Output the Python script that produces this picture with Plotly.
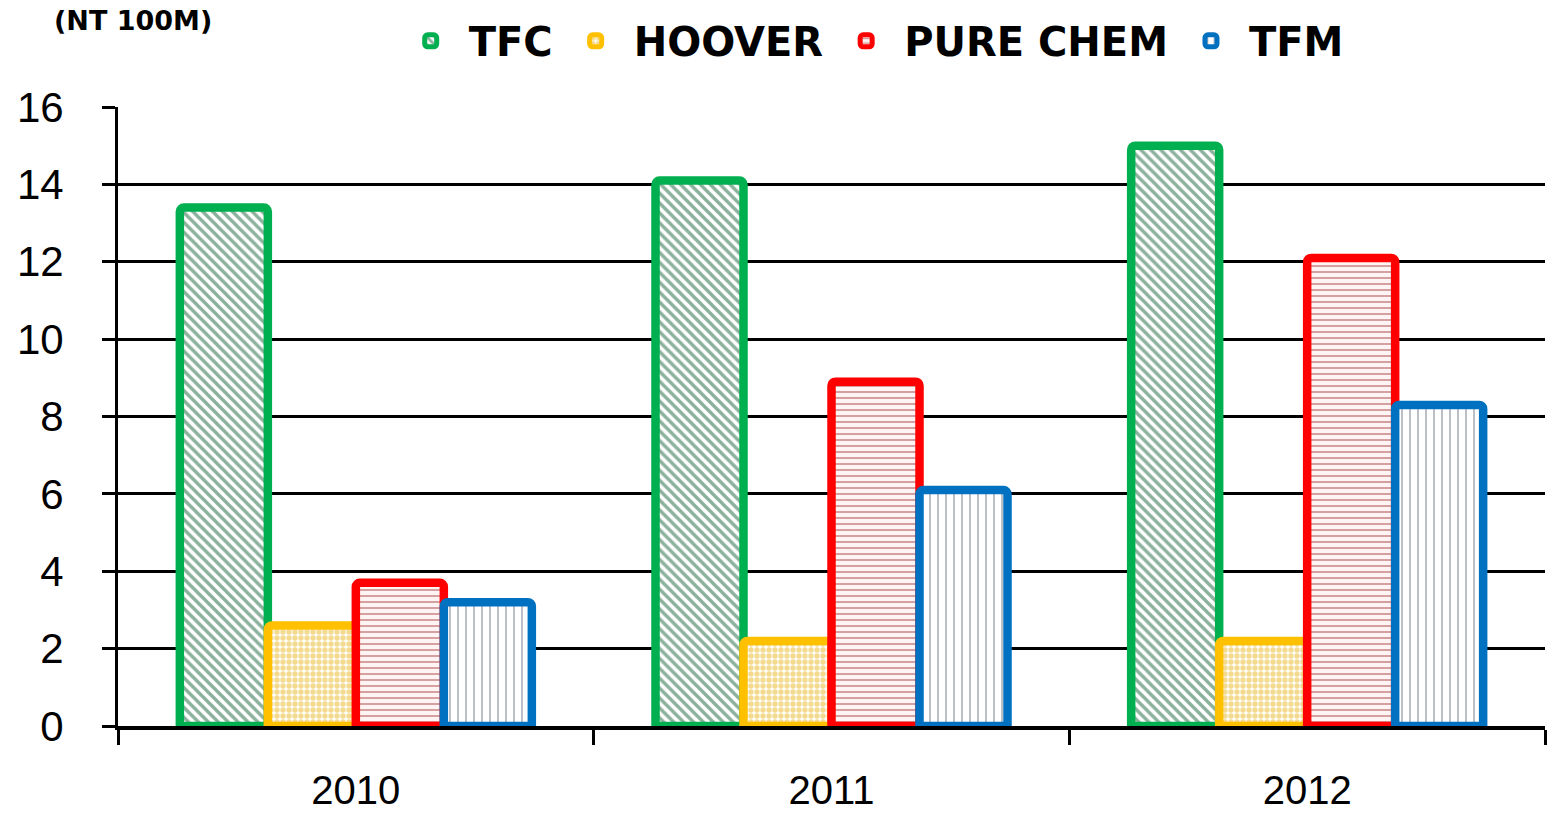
import plotly.graph_objects as go

# ---- data ----
years = ["2010", "2011", "2012"]
series_names = ["TFC", "HOOVER", "PURE CHEM", "TFM"]
tfc = [13.4, 14.1, 15.0]
hoover = [2.6, 2.2, 2.2]
pure_chem = [3.7, 8.9, 12.1]
tfm = [3.2, 6.1, 8.3]
y_ticks = [0, 2, 4, 6, 8, 10, 12, 14, 16]
unit_label = "(NT 100M)"

values = [tfc, hoover, pure_chem, tfm]

# ---- styles ----
border_colors = ["#00B050", "#FFC000", "#FF0000", "#0070C0"]
patterns = [
    dict(shape="\\", fgcolor="#166338", bgcolor="#FFFFFF", size=7, solidity=0.48),
    dict(shape=".", fgcolor="#E8B520", bgcolor="#FFFFFF", size=6, solidity=0.62),
    dict(shape="-", fgcolor="#9E2A2A", bgcolor="#FFF4F4", size=6, solidity=0.28),
    dict(shape="|", fgcolor="#2F3B4C", bgcolor="#FFFFFF", size=8, solidity=0.16),
]

fig = go.Figure()
for name, vals, bc, pat in zip(series_names, values, border_colors, patterns):
    fig.add_trace(go.Bar(
        name=name, x=years, y=vals,
        marker=dict(color="#FFFFFF", pattern=pat,
                    line=dict(color=bc, width=8.5), cornerradius=4),
    ))

fig.update_layout(
    width=1549, height=816,
    margin=dict(l=118, r=4, t=107, b=85),
    paper_bgcolor="white", plot_bgcolor="white",
    barmode="group", bargap=0.26, bargroupgap=0.0,
    showlegend=True,
    legend=dict(orientation="h", x=0.1925, xanchor="left", y=1.107, yanchor="middle",
                font=dict(family="DejaVu Sans", size=40, color="black", weight="bold"),
                itemwidth=66, traceorder="normal", bgcolor="rgba(0,0,0,0)"),
    annotations=[dict(text=unit_label, xref="paper", yref="paper", x=-0.046, y=1.139,
                      xanchor="left", yanchor="middle", showarrow=False,
                      font=dict(family="DejaVu Sans", size=27, color="black", weight="bold"))],
)
fig.update_yaxes(range=[0, 16], tickvals=y_ticks, showgrid=True, gridcolor="black", gridwidth=3,
                 showline=True, linecolor="black", linewidth=3, zeroline=False,
                 ticks="outside", ticklen=13, tickwidth=3, tickcolor="black",
                 tickfont=dict(family="Liberation Sans, Arial", size=42, color="black"),
                 ticklabelstandoff=30)
fig.update_xaxes(type="category", showline=True, linecolor="black", linewidth=4,
                 ticks="outside", tickson="boundaries", ticklen=15, tickwidth=3, tickcolor="black",
                 tickfont=dict(family="Liberation Sans, Arial", size=40, color="black"),
                 ticklabelstandoff=26, showgrid=False)

fig.write_html("out.html", config={"displayModeBar": False},
               post_script="document.body.style.margin='0';document.body.style.overflow='hidden';")
